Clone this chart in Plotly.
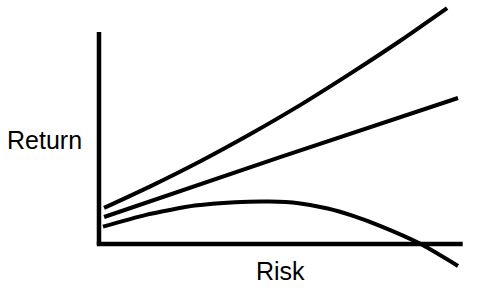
import plotly.graph_objects as go

# Conceptual risk/return curves (axes scaled 0-100)
risk_upper = [1.4, 14.0, 27.8, 41.6, 55.4, 69.1, 82.9, 95.9]
ret_upper = [17.1, 27.2, 39.1, 52.0, 65.8, 80.6, 96.2, 111.8]

risk_mid = [1.4, 49.9, 98.9]
ret_mid = [12.8, 41.2, 69.2]

risk_lower = [1.1, 12.7, 26.4, 37.5, 47.0, 55.0, 63.0, 70.0, 77.4, 88.4, 98.9]
ret_lower = [8.2, 13.7, 18.2, 19.8, 20.1, 19.3, 16.8, 13.3, 8.6, 0.2, -10.4]

x_label = "Risk"
y_label = "Return"

fig = go.Figure()
for xs, ys in [(risk_upper, ret_upper), (risk_mid, ret_mid), (risk_lower, ret_lower)]:
    fig.add_trace(go.Scatter(x=xs, y=ys, mode="lines",
                             line=dict(color="black", width=4, shape="spline", smoothing=0.6),
                             showlegend=False, hoverinfo="skip"))

# Axes drawn as thick lines
fig.add_shape(type="line", x0=0, x1=0, y0=-0.4, y1=100.5, line=dict(color="black", width=4.5))
fig.add_shape(type="line", x0=-0.6, x1=100.2, y0=0, y1=0, line=dict(color="black", width=4.5))

font = dict(family="Liberation Sans, Arial, sans-serif", size=25, color="black")
fig.add_annotation(x=50.0, y=-13.0, text=x_label, showarrow=False, font=font,
                   xanchor="center", yanchor="middle")
fig.add_annotation(x=-14.9, y=49.5, text=y_label, showarrow=False, font=font,
                   xanchor="center", yanchor="middle")

fig.update_layout(
    width=491, height=295,
    margin=dict(l=0, r=0, t=0, b=0),
    paper_bgcolor="white", plot_bgcolor="white",
    xaxis=dict(range=[-27.27, 107.99], visible=False, fixedrange=True),
    yaxis=dict(range=[-24.17, 115.64], visible=False, fixedrange=True),
)
fig.write_html("out.html")
